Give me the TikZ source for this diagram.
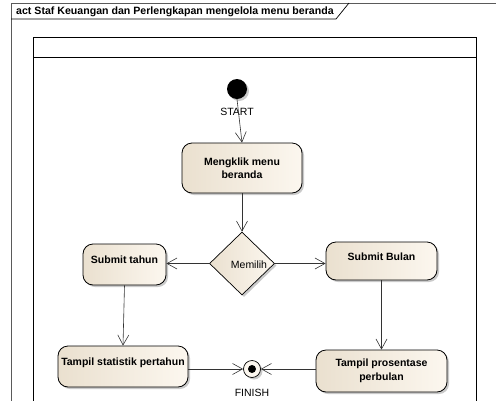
\documentclass[tikz,border=0pt]{standalone}
\usepackage{fontspec}
\setmainfont{Liberation Sans}
\usetikzlibrary{shapes.geometric,arrows.meta,shadows}
\definecolor{actleft}{RGB}{234,224,207}
\definecolor{actright}{RGB}{252,247,239}
\definecolor{framegray}{RGB}{90,90,90}
\tikzset{
  x=1pt, y=-1pt,
  every node/.style={font=\fontsize{10.5}{13.5}\selectfont},
  shade/.style={drop shadow={shadow xshift=2pt, shadow yshift=-2pt, fill=black!35, opacity=0.6}},
  action/.style={draw=black, line width=0.8pt, rounded corners=10pt, shade,
    left color=actleft, right color=actright, align=center,
    font=\fontsize{10.5}{13.5}\selectfont\bfseries, inner sep=0pt},
  decision/.style={diamond, draw=black, line width=0.7pt, shade,
    left color=actleft, right color=actright, inner sep=0pt},
  flow/.style={draw=black!80, line width=0.6pt,
    -{Straight Barb[length=10pt,width=11pt,line width=0.6pt]}},
  caption/.style={font=\fontsize{10.5}{12}\selectfont, inner sep=0pt}
}
\begin{document}
\begin{tikzpicture}
\useasboundingbox (0,0) rectangle (496,400);

% diagram frame and its name tab
\draw[framegray, line width=0.7pt] (11,410) -- (11,3) -- (500,3);
\draw[black, line width=0.7pt] (11,19) -- (336,19) -- (349,3);
\node[anchor=west, font=\fontsize{10.6}{12}\selectfont\bfseries, inner sep=0pt] (title) at (16,11.5)
  {act Staf Keuangan dan Perlengkapan mengelola menu beranda};

% partition
\draw[black, line width=0.8pt] (33,410) -- (33,37) -- (476,37) -- (476,410);
\draw[black, line width=0.8pt] (33,57) -- (476,57);

% initial node
\node[circle, fill=black, minimum size=20pt, inner sep=0pt, shade] (start) at (237,89) {};
\node[caption] (startlbl) at (237,112) {START};

% actions
\node[action, minimum width=120pt, minimum height=50pt] (klik) at (242,168)
  {Mengklik menu\\beranda};
\node[decision, minimum width=65pt, minimum height=63pt,
  label={[caption, xshift=7pt, yshift=-1pt]center:Memilih}] (pilih) at (242,263.5) {};
\node[action, minimum width=83pt, minimum height=41pt, text depth=9pt] (tahun) at (124.5,264.5)
  {Submit tahun};
\node[action, minimum width=111pt, minimum height=38pt, text depth=8pt] (bulan) at (381.5,261)
  {Submit Bulan};
\node[action, minimum width=130pt, minimum height=41pt, text depth=9pt] (stat) at (123,366.5)
  {Tampil statistik pertahun};
\node[action, minimum width=131pt, minimum height=42pt] (pros) at (381.5,371)
  {Tampil prosentase\\perbulan};

% final node
\node[circle, draw=black, line width=0.7pt, fill=actright, minimum size=17pt, inner sep=0pt, shade] (finish) at (252,369) {};
\node[circle, fill=black, minimum size=8pt, inner sep=0pt] (finishdot) at (finish) {};
\node[caption] (finishlbl) at (252,393) {FINISH};

% control flows
\draw[flow] (start.south) -- (klik.north);
\draw[flow] (klik.south) -- (pilih.north);
\draw[flow] (pilih.west) -- (tahun.east |- pilih.west);
\draw[flow] (pilih.east) -- (bulan.west |- pilih.east);
\draw[flow] (tahun.south) -- (stat.north);
\draw[flow] (bulan.south) -- (pros.north);
\draw[flow] (stat.east |- finish.west) -- (finish.west);
\draw[flow] (pros.west |- finish.east) -- (finish.east);
\end{tikzpicture}
\end{document}
